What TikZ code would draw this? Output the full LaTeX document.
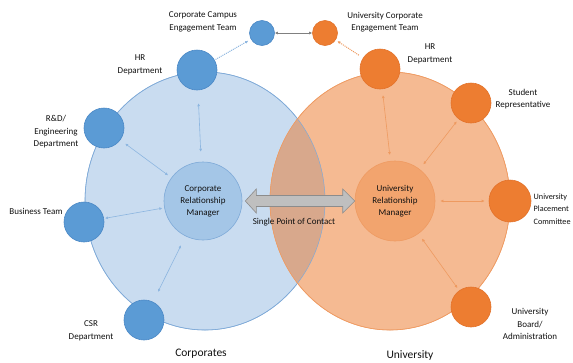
\documentclass[tikz,border=0pt]{standalone}
\usepackage{fontspec}
\setmainfont{Carlito}
\usetikzlibrary{arrows.meta,calc,shapes.geometric}
\definecolor{bdark}{HTML}{5B9BD5}
\definecolor{bdarkline}{HTML}{4A88C6}
\definecolor{blight}{HTML}{C9DCF0}
\definecolor{blightline}{HTML}{7FAAD8}
\definecolor{bmid}{HTML}{A4C6E7}
\definecolor{odark}{HTML}{ED7D31}
\definecolor{odarkline}{HTML}{E3722A}
\definecolor{olight}{HTML}{F5BA92}
\definecolor{olightline}{HTML}{EF9B62}
\definecolor{omid}{HTML}{F2A46E}
\definecolor{overlapc}{HTML}{D8A88C}
\definecolor{bconnc}{HTML}{8DB6E0}
\definecolor{oconnc}{HTML}{EE9A60}
\definecolor{txt}{HTML}{111111}
\tikzset{
  bcirc/.style={circle,fill=bdark,draw=bdarkline,line width=0.6pt,inner sep=0pt},
  ocirc/.style={circle,fill=odark,draw=odarkline,line width=0.6pt,inner sep=0pt},
  bigb/.style={ellipse,fill=blight,draw=blightline,line width=0.6pt,minimum width=240pt,minimum height=258pt,inner sep=0pt},
  bigo/.style={ellipse,fill=olight,draw=olightline,line width=0.6pt,minimum width=240pt,minimum height=258pt,inner sep=0pt},
  mgrb/.style={circle,fill=bmid,draw=blightline,line width=0.6pt,minimum size=78pt,inner sep=0pt,align=center,font=\fontsize{9}{12}\selectfont,text=txt},
  mgro/.style={circle,fill=omid,draw=olightline,line width=0.6pt,minimum size=80pt,inner sep=0pt,align=center,font=\fontsize{9}{12}\selectfont,text=txt},
  lbl/.style={align=center,font=\fontsize{9}{12.5}\selectfont,text=txt,inner sep=0pt},
  biglbl/.style={font=\fontsize{11.5}{14}\selectfont,text=txt,inner sep=0pt},
  bconn/.style={draw=bconnc,line width=0.6pt,{Latex[length=3pt,width=3pt]}-{Latex[length=3pt,width=3pt]}},
  oconn/.style={draw=oconnc,line width=0.6pt,{Latex[length=3pt,width=3pt]}-{Latex[length=3pt,width=3pt]}},
  bdot/.style={draw=bconnc,line width=1pt,densely dotted,-{Latex[length=3pt,width=3pt]}},
  odot/.style={draw=oconnc,line width=1pt,densely dotted,-{Latex[length=3pt,width=3pt]}},
  gconn/.style={draw=gray,line width=0.6pt,{Latex[length=3pt,width=3pt]}-{Latex[length=3pt,width=3pt]}},
  spoc/.style={fill=black!25,draw=black!45,line width=0.6pt}
}
\begin{document}
\begin{tikzpicture}[x=1pt,y=-1pt]
\useasboundingbox[fill=white] (0,0) rectangle (573,362);
% big regions
\node[bigb] (corp) at (205,201) {};
\node[bigo] (univ) at (390,201) {};
\begin{scope}
  \clip (205,201) ellipse [x radius=120pt, y radius=129pt];
  \fill[overlapc] (390,201) ellipse [x radius=120pt, y radius=129pt];
\end{scope}
\draw[blightline,line width=0.5pt] (205,201) ellipse [x radius=120pt, y radius=129pt];
\draw[olightline,line width=0.5pt] (390,201) ellipse [x radius=120pt, y radius=129pt];
% managers
\node[mgrb] (crm) at (203,201) {Corporate\\Relationship\\Manager};
\node[mgro] (urm) at (395,201) {University\\Relationship\\Manager};
% blue satellites
\node[bcirc,minimum size=40pt] (hrb) at (197,70) {};
\node[bcirc,minimum size=40pt] (rnd) at (104,128) {};
\node[bcirc,minimum size=40pt] (bus) at (84,222) {};
\node[bcirc,minimum size=40pt] (csr) at (144,320) {};
\node[bcirc,minimum size=25pt] (cct) at (262,33) {};
% orange satellites
\node[ocirc,minimum size=40pt] (hro) at (380,69) {};
\node[ocirc,minimum size=40pt] (stu) at (471,103) {};
\node[ocirc,minimum size=42pt] (plc) at (510,201) {};
\node[ocirc,minimum size=40pt] (brd) at (471,307) {};
\node[ocirc,minimum size=25pt] (uce) at (325,33) {};
% connectors
\draw[bconn,shorten <=13pt,shorten >=10pt] (hrb) -- (crm);
\draw[bconn,shorten <=6pt,shorten >=4pt] (rnd) -- (crm);
\draw[bconn,shorten <=1pt,shorten >=2pt] (bus) -- (crm);
\draw[bconn,shorten <=11pt,shorten >=10pt] (csr) -- (crm);
\draw[bdot,shorten <=1pt,shorten >=3pt] (hrb) -- (cct);
\draw[oconn,shorten <=6pt,shorten >=6pt] (hro) -- (urm);
\draw[oconn,shorten <=3pt,shorten >=6pt] (stu) -- (urm);
\draw[oconn,shorten <=4pt,shorten >=5pt] (plc) -- (urm);
\draw[oconn,shorten <=3pt,shorten >=6pt] (brd) -- (urm);
\draw[odot,shorten <=5pt,shorten >=2pt] (hro) -- (uce);
\draw[gconn] (uce) -- (cct);
% single point of contact arrow
\coordinate (aL) at ($(crm.east)+(3,0)$);
\coordinate (aR) at (urm.west);
\draw[spoc] (aL) -- ($(aL)+(11,-12)$) -- ($(aL)+(11,-5.5)$) -- ($(aR)+(-12,-5.5)$) -- ($(aR)+(-12,-12)$) -- (aR)
  -- ($(aR)+(-12,12)$) -- ($(aR)+(-12,5.5)$) -- ($(aL)+(11,5.5)$) -- ($(aL)+(11,12)$) -- cycle;
\node[lbl] (spoct) at (294,222) {Single Point of Contact};
% labels
\node[lbl] (cctl) at (203,22) {Corporate Campus\\Engagement Team};
\node[lbl] (ucel) at (385,22) {University Corporate\\Engagement Team};
\node[lbl] (hrbl) at (140,65) {HR\\Department};
\node[lbl] (rndl) at (56,132) {R\&D/\\Engineering\\Department};
\node[lbl] (busl) at (36,211) {Business Team};
\node[lbl] (csrl) at (91,331) {CSR\\Department};
\node[lbl] (hrol) at (430,54) {HR\\Department};
\node[lbl] (stul) at (523,99) {Student\\Representative};
\node[lbl,align=left,anchor=west,font=\fontsize{8.2}{12.5}\selectfont] (plcl) at (533.5,209) {University\\Placement\\Committee};
\node[lbl] (brdl) at (530,324) {University\\Board/\\Administration};
\node[biglbl] (corpl) at (201,354) {Corporates};
\node[biglbl] (univl) at (410,355) {University};
\end{tikzpicture}
\end{document}
